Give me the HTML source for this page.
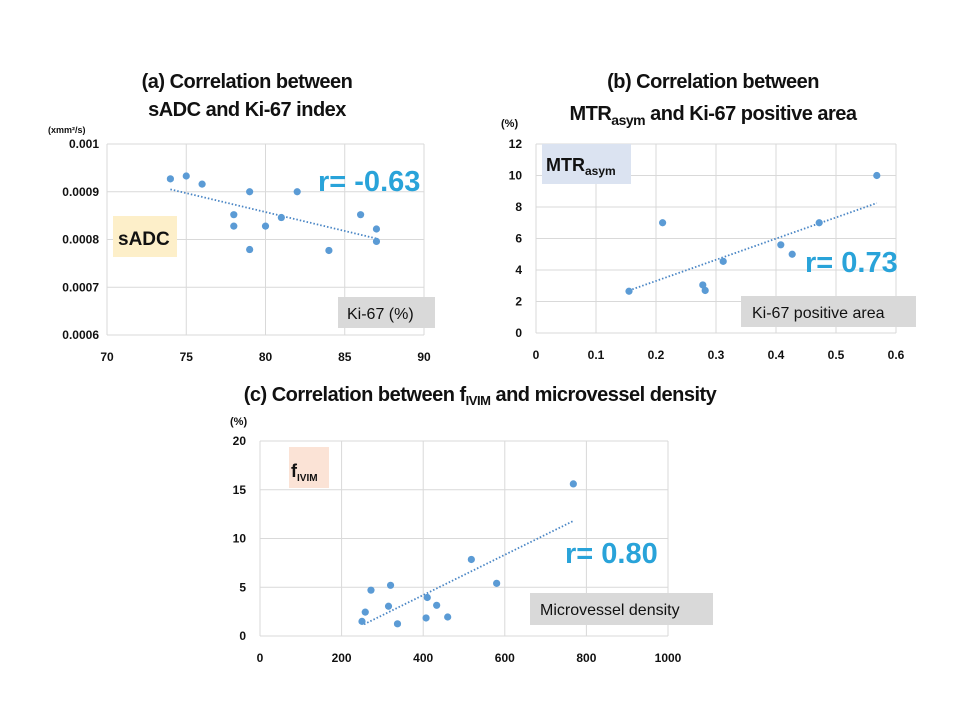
<!DOCTYPE html>
<html><head><meta charset="utf-8"><style>
body{margin:0;background:#fff;}
svg{display:block;font-family:"Liberation Sans",Arial,sans-serif;}
.t{font-weight:bold;font-size:20px;fill:#111;letter-spacing:-0.5px}
.tk{font-weight:bold;font-size:12px;fill:#111}
.r{font-weight:bold;font-size:29px;fill:#29a3d9}
</style></head><body>
<svg id="s" width="960" height="720">
<text class="t" x="247" y="88" text-anchor="middle">(a) Correlation between</text>
<text class="t" x="247" y="116" text-anchor="middle">sADC and Ki-67 index</text>
<text class="t" x="713" y="88" text-anchor="middle">(b) Correlation between</text>
<text class="t" x="713" y="120" text-anchor="middle">MTR<tspan font-size="14" dy="5">asym</tspan><tspan dy="-5"> and Ki-67 positive area</tspan></text>
<text class="t" x="480" y="401" text-anchor="middle">(c) Correlation between f<tspan font-size="13" dy="4">IVIM</tspan><tspan dy="-4"> and microvessel density</tspan></text>
<g id="ga"></g><g id="gb"></g><g id="gc"></g>
</svg>
<script>
const aX=[74,75,76,79,78,78,80,79,81,82,86,87,87,84];
const aY=[0.000927,0.000933,0.000916,0.0009,0.000852,0.000828,0.000828,0.000779,0.000846,0.0009,0.000852,0.000822,0.000796,0.000777];
const aTrend=[[74,0.000905],[87,0.000802]];
const aXTicks=[70,75,80,85,90];
const aYTicks=[0.0006,0.0007,0.0008,0.0009,0.001];
const bX=[0.155,0.211,0.278,0.282,0.312,0.408,0.427,0.472,0.568];
const bY=[2.65,7.0,3.05,2.7,4.55,5.6,5.0,7.0,10.0];
const bTrend=[[0.155,2.7],[0.568,8.25]];
const bXTicks=[0,0.1,0.2,0.3,0.4,0.5,0.6];
const bYTicks=[0,2,4,6,8,10,12];
const cX=[250,258,272,315,320,337,407,410,433,460,518,580,768];
const cY=[1.5,2.45,4.7,3.05,5.2,1.25,1.85,3.95,3.15,1.95,7.85,5.4,15.6];
const cTrend=[[255,1.2],[768,11.8]];
const cXTicks=[0,200,400,600,800,1000];
const cYTicks=[0,5,10,15,20];
const NS="http://www.w3.org/2000/svg";
function mk(p,t,at){const e=document.createElementNS(NS,t);for(const k in at)e.setAttribute(k,at[k]);p.appendChild(e);return e;}
function chart(g,o,xs,ys,tr,xt,yt,fmt){
 const sx=v=>o.x0+(v-xt[0])/(xt[xt.length-1]-xt[0])*(o.x1-o.x0);
 const sy=v=>o.y1-(v-yt[0])/(yt[yt.length-1]-yt[0])*(o.y1-o.y0);
 xt.forEach(v=>{const l=mk(g,'line',{x1:sx(v),x2:sx(v),y1:o.y0,y2:o.y1,stroke:'#d9d9d9'});
 
 const t=mk(g,'text',{x:sx(v),y:o.y1+26,'text-anchor':'middle',class:'tk'});t.textContent=fmt.x(v);
 });
 yt.forEach(v=>{const l=mk(g,'line',{x1:o.x0,x2:o.x1,y1:sy(v),y2:sy(v),stroke:'#d9d9d9'});
 
 const t=mk(g,'text',{x:o.x0-o.yl,y:sy(v)+4,'text-anchor':'end',class:'tk'});t.textContent=fmt.y(v);
 });
 const tl=mk(g,'line',{x1:sx(tr[0][0]),y1:sy(tr[0][1]),x2:sx(tr[1][0]),y2:sy(tr[1][1]),stroke:'#4a86c5','stroke-width':1.8,'stroke-dasharray':'1.5 2'});
 
 xs.forEach((v,i)=>{const c=mk(g,'circle',{cx:sx(v),cy:sy(ys[i]),r:3.6,fill:'#5b9bd5'});
 });
}
const ga=document.getElementById('ga'),gb=document.getElementById('gb'),gc=document.getElementById('gc');
chart(ga,{x0:107,x1:424,y0:144,y1:335,yl:8},aX,aY,aTrend,aXTicks,aYTicks,{x:v=>v,y:v=>v===0.001?'0.001':v.toFixed(4)});
chart(gb,{x0:536,x1:896,y0:144,y1:333,yl:14},bX,bY,bTrend,bXTicks,bYTicks,{x:v=>String(v),y:v=>v});
chart(gc,{x0:260,x1:668,y0:441,y1:636,yl:14},cX,cY,cTrend,cXTicks,cYTicks,{x:v=>v,y:v=>v});
</script>
<svg style="position:absolute;left:0;top:0" width="960" height="720">
<text x="48" y="133" font-size="9" font-weight="bold" fill="#111" font-family="Liberation Sans,sans-serif">(xmm²/s)</text>
<text x="501" y="127" font-size="11" font-weight="bold" fill="#111" font-family="Liberation Sans,sans-serif">(%)</text>
<text x="230" y="425" font-size="11" font-weight="bold" fill="#111" font-family="Liberation Sans,sans-serif">(%)</text>
<rect x="113" y="216" width="64" height="41" fill="#fdefc9"/>
<text x="118" y="245" font-size="19" font-weight="bold" fill="#111" font-family="Liberation Sans,sans-serif">sADC</text>
<rect x="338" y="297" width="97" height="31" fill="#d9d9d9"/>
<text x="347" y="319" font-size="16" fill="#111" font-family="Liberation Sans,sans-serif">Ki-67 (%)</text>
<text x="318" y="191" class="r" font-size="29" font-weight="bold" fill="#29a3d9" font-family="Liberation Sans,sans-serif">r= -0.63</text>
<rect x="542" y="144" width="89" height="40" fill="#dbe3f1"/>
<text x="546" y="171" font-size="18" font-weight="bold" fill="#111" font-family="Liberation Sans,sans-serif">MTR<tspan font-size="12" dy="4">asym</tspan></text>
<rect x="741" y="296" width="175" height="31" fill="#d9d9d9"/>
<text x="752" y="318" font-size="16" fill="#111" font-family="Liberation Sans,sans-serif">Ki-67 positive area</text>
<text x="805" y="272" font-size="29" font-weight="bold" fill="#29a3d9" font-family="Liberation Sans,sans-serif">r= 0.73</text>
<rect x="289" y="447" width="40" height="41" fill="#fbe3d6"/>
<text x="291" y="477" font-size="18" font-weight="bold" fill="#111" font-family="Liberation Sans,sans-serif">f<tspan font-size="10" dy="4">IVIM</tspan></text>
<rect x="530" y="593" width="183" height="32" fill="#d9d9d9"/>
<text x="540" y="615" font-size="16" fill="#111" font-family="Liberation Sans,sans-serif">Microvessel density</text>
<text x="565" y="563" font-size="29" font-weight="bold" fill="#29a3d9" font-family="Liberation Sans,sans-serif">r= 0.80</text>
</svg>
</body></html>
